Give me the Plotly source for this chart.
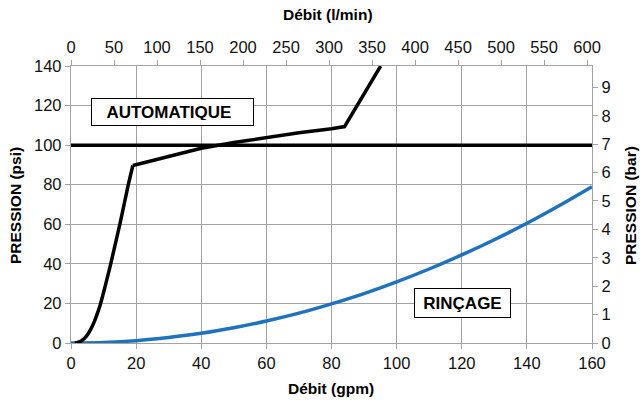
import plotly.graph_objects as go

# Data
auto_rise_gpm = [1.2, 2.0, 3.0, 4.0, 5.0, 6.0, 7.0, 8.0, 9.0, 10.0, 11.0, 12.2, 13.6, 15.0, 16.3, 17.6, 19.0]
auto_rise_psi = [0, 0.25, 0.9, 2.1, 4.1, 6.8, 10.2, 14.5, 19.5, 25.5, 32.0, 40.0, 50.0, 60.0, 70.0, 80.0, 89.7]
auto_gpm = [19.0, 30, 40, 50, 60, 70, 80, 84, 95.1]
auto_psi = [89.7, 94.2, 98.4, 101.3, 103.8, 106.3, 108.3, 109.4, 140]

rinc_gpm = [0, 10, 20, 30, 40, 50, 60, 70, 80, 90, 100, 110, 120, 130, 140, 150, 160]
rinc_psi = [0, 0.3, 1.2, 2.8, 4.9, 7.7, 11.1, 15.1, 19.8, 25.0, 30.9, 37.4, 44.5, 52.2, 60.5, 69.5, 79.0]

limit_gpm = [0, 160]
limit_psi = [100, 100]

x_range_gpm = [0, 160]
x_range_lmin = [0, 605.7]
y_range_psi = [0, 140]
y_range_bar = [0, 9.75]

label_x = [31.2, 120.2]
label_y = [116.8, 20.3]
label_w = [151, 85]
label_h = [16, 18]
label_text = ["&nbsp;&nbsp;<b>AUTOMATIQUE</b>", "<b>RINÇAGE</b>"]
label_align = ["left", "center"]

axis_titles = ["Débit (gpm)", "Débit (l/min)", "PRESSION (psi)", "PRESSION (bar)"]

W, H = 644, 402
ML, MR, MT, MB = 71, 52, 66, 59
PW, PH = W - ML - MR, H - MT - MB

def px(x):
    return (x - ML) / PW

def py(y):
    return (H - MB - y) / PH

FONT = "Liberation Sans, Arial, sans-serif"
GRID = "#a3a3a3"

fig = go.Figure()
fig.add_trace(go.Scatter(x=rinc_gpm, y=rinc_psi, mode="lines",
                         line=dict(color="#1f72bd", width=3.5, shape="spline", smoothing=0.6),
                         showlegend=False, hoverinfo="skip"))
fig.add_trace(go.Scatter(x=limit_gpm, y=limit_psi, mode="lines", line=dict(color="#000000", width=3.5),
                         showlegend=False, hoverinfo="skip"))
fig.add_trace(go.Scatter(x=auto_rise_gpm, y=auto_rise_psi, mode="lines",
                         line=dict(color="#000000", width=3.5, shape="spline", smoothing=0.8),
                         showlegend=False, hoverinfo="skip"))
fig.add_trace(go.Scatter(x=auto_gpm, y=auto_psi, mode="lines", line=dict(color="#000000", width=3.5),
                         showlegend=False, hoverinfo="skip"))
# invisible trace to bind secondary axes
fig.add_trace(go.Scatter(x=[0], y=[0], xaxis="x2", yaxis="y2", mode="markers", marker=dict(opacity=0),
                         showlegend=False, hoverinfo="skip"))

for t, x, y, w, h, a in zip(label_text, label_x, label_y, label_w, label_h, label_align):
    fig.add_annotation(x=x, y=y, text=t, showarrow=False, width=w, height=h, align=a, valign="middle",
                       font=dict(family=FONT, size=17, color="#000"),
                       bgcolor="#ffffff", bordercolor="#000000", borderwidth=1, borderpad=5)

titlefont = dict(family=FONT, size=15.5, color="#000")
# axis titles placed as paper annotations
title_pos = [(331, 388, 0), (328, 14, 0), (15, 206, -90), (630, 206, -90)]
for t, (x, y, ang) in zip(axis_titles, title_pos):
    fig.add_annotation(xref="paper", yref="paper", x=px(x), y=py(y), text="<b>" + t + "</b>",
                       showarrow=False, textangle=ang, xanchor="center", yanchor="middle",
                       font=titlefont)

tickfont = dict(family=FONT, size=16.5, color="#111")
axis_common = dict(showline=True, linecolor=GRID, linewidth=1.3, ticks="outside", ticklen=5,
                   tickcolor=GRID, tickfont=tickfont, zeroline=False, automargin=False)

fig.update_layout(
    width=W, height=H,
    margin=dict(l=ML, r=MR, t=MT, b=MB),
    plot_bgcolor="#ffffff", paper_bgcolor="#ffffff",
    xaxis=dict(range=x_range_gpm, dtick=20, tick0=0, showgrid=True, gridcolor=GRID, gridwidth=1.3, **axis_common),
    xaxis2=dict(range=x_range_lmin, dtick=50, tick0=0, overlaying="x", side="top", showgrid=False, **axis_common),
    yaxis=dict(range=y_range_psi, dtick=20, tick0=0, showgrid=True, gridcolor=GRID, gridwidth=1.3, **axis_common),
    yaxis2=dict(range=y_range_bar, dtick=1, tick0=0, overlaying="y", side="right", showgrid=False, **axis_common),
)

fig.write_html("out.html")
